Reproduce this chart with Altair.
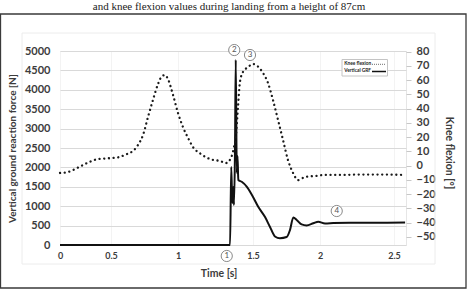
import altair as alt
import pandas as pd

# Knee flexion angle (degrees) over time (s)
knee_t = [0, 0.078, 0.176, 0.275, 0.373, 0.471, 0.552, 0.619, 0.672, 0.701,
          0.739, 0.776, 0.813, 0.851, 0.881, 0.903, 0.925, 0.963, 1.0, 1.033,
          1.067, 1.1, 1.153, 1.213, 1.28, 1.32, 1.353, 1.373, 1.387, 1.4,
          1.413, 1.433, 1.467, 1.5, 1.537, 1.575, 1.612, 1.649, 1.687, 1.724,
          1.761, 1.799, 1.836, 1.888, 1.963, 2.034, 2.135, 2.27, 2.405, 2.574]
knee_deg = [-5.2, -4.5, -1.4, 2.1, 4.6, 5.1, 5.8, 8.1, 10.9, 14.4,
            21.5, 34.1, 46.1, 57.3, 62.9, 63.6, 60.8, 49.6, 36.9, 27.1,
            19.4, 13.0, 8.1, 4.6, 3.2, 1.8, 5.3, 13.0, 21.5, 41.1,
            58.7, 65.7, 69.2, 71.4, 69.6, 65.0, 58.0, 46.1, 32.0, 18.0,
            3.9, -5.2, -10.2, -8.0, -7.3, -6.6, -6.6, -6.3, -6.3, -6.6]

# Vertical ground reaction force (N) over time (s)
grf_t = [0, 1.347, 1.355, 1.362, 1.369, 1.373, 1.38, 1.385, 1.392, 1.397,
         1.402, 1.425, 1.458, 1.493, 1.539, 1.59, 1.627, 1.664, 1.701, 1.751,
         1.776, 1.801, 1.826, 1.863, 1.9, 1.95, 1.987, 2.034, 2.09, 2.203,
         2.405, 2.574]
grf_n = [0, 0, 2010, 1080, 1495, 1030, 2450, 4770, 1855, 2295,
         1675, 1630, 1505, 1290, 985, 720, 465, 220, 175, 205,
         385, 710, 645, 530, 505, 560, 600, 555, 565, 575,
         575, 580]

# Numbered event markers (time, force-axis position)
mark_t = [1.325, 1.375, 1.48, 2.113]
mark_v = [-283, 5025, 4897, 876]
mark_lbl = ["1", "2", "3", "4"]

x_ticks = [0, 0.5, 1, 1.5, 2, 2.5]
grf_ticks = list(range(0, 5001, 500))
knee_ticks = list(range(-50, 81, 10))

caption = "and knee flexion values during landing from a height of 87cm"
legend_names = ["Knee flexion", "Vertical GRF"]

FONT = "Lato"
INK = "#3c3c3c"

knee_df = pd.DataFrame({"t": knee_t, "knee": knee_deg})
grf_df = pd.DataFrame({"t": grf_t, "grf": grf_n})
mark_df = pd.DataFrame({"t": mark_t, "v": mark_v, "lbl": mark_lbl})
one = pd.DataFrame({"k": [0]})

x_scale = alt.Scale(domain=[0, 0.5, 1, 1.5, 2, 2.5, 2.58],
                    range=[0, 51, 118, 193, 260, 334, 346], nice=False)
x_axis = alt.Axis(values=x_ticks, format="~g", title="Time [s]",
                  grid=True, gridColor="#f3f3f3", ticks=False, domain=False,
                  labelFlush=False, labelFont=FONT, labelFontWeight="bold",
                  labelFontSize=9, labelColor=INK, labelPadding=6,
                  titleFont=FONT, titleFontWeight="bold", titleFontSize=10.5,
                  titleColor=INK, titleX=158.5, titleY=28,
                  titleBaseline="middle", titleAlign="center")
x_enc = alt.X("t:Q", scale=x_scale, axis=x_axis)

grf_scale = alt.Scale(domain=[0, 5000], nice=False, zero=False)

grf_line = alt.Chart(grf_df).mark_line(
    color="#111111", strokeWidth=2, interpolate="monotone"
).encode(
    x=x_enc,
    y=alt.Y("grf:Q", scale=grf_scale,
            axis=alt.Axis(values=grf_ticks, format="d", orient="left",
                          title="Vertical ground reaction force [N]",
                          grid=True, gridColor="#d9d9d9", ticks=False,
                          domain=False, labelFont=FONT, labelFontWeight="bold",
                          labelFontSize=11, labelColor=INK, labelPadding=10,
                          titleFont=FONT, titleFontWeight="bold",
                          titleFontSize=10, titleColor=INK, titleAngle=270,
                          titleX=-48, titleY=97, titleBaseline="middle",
                          titleAlign="center")),
)

knee_line = alt.Chart(knee_df).mark_line(
    color="#1a1a1a", strokeWidth=2.3, strokeDash=[0.1, 4.6],
    strokeCap="round", interpolate="monotone"
).encode(
    x=x_enc,
    y=alt.Y("knee:Q", scale=alt.Scale(domain=[-55.8, 80.5], nice=False, zero=False),
            axis=alt.Axis(values=knee_ticks, format="d", orient="right",
                          title="Knee flexion [°]", grid=False, ticks=True,
                          tickSize=5, tickColor="#c8c8c8", domain=False,
                          labelFont=FONT, labelFontWeight="bold",
                          labelFontSize=11, labelColor=INK, labelPadding=5,
                          titleFont=FONT, titleFontWeight="bold",
                          titleFontSize=10.5, titleColor=INK, titleAngle=90,
                          titleX=42, titleY=101.5, titleBaseline="middle",
                          titleAlign="center")),
)

mark_y = alt.Y("v:Q", scale=grf_scale, axis=None)
event_circles = alt.Chart(mark_df).mark_point(
    shape="circle", size=125, filled=True, fill="white", stroke="#8a8a8a",
    strokeWidth=1, opacity=1
).encode(x=x_enc, y=mark_y)
event_text = alt.Chart(mark_df).mark_text(
    font=FONT, fontSize=8, color="#555555", baseline="middle", align="center"
).encode(x=x_enc, y=mark_y, text="lbl:N")

# Frames around the figure
outer_frame = alt.Chart(one).mark_rect(
    fill="transparent", stroke="#3a3a3a", strokeWidth=1.3
).encode(x=alt.value(-59.5), x2=alt.value(406), y=alt.value(-37), y2=alt.value(237))
inner_frame = alt.Chart(one).mark_rect(
    fill="transparent", stroke="#ececec", strokeWidth=1
).encode(x=alt.value(-38), x2=alt.value(375), y=alt.value(-18), y2=alt.value(213))

caption_text = alt.Chart(one).mark_text(
    text=caption, font="Liberation Serif", fontSize=11, color="#222222",
    align="center", baseline="middle"
).encode(x=alt.value(169), y=alt.value(-44.3))

# Legend: labels on the left, line samples on the right
legend_box = alt.Chart(one).mark_rect(
    fill="white", stroke="#c4c4c4", strokeWidth=1
).encode(x=alt.value(282), x2=alt.value(327.5), y=alt.value(8.5), y2=alt.value(25))
legend_lbl1 = alt.Chart(one).mark_text(
    text=legend_names[0], font=FONT, fontSize=4.8, fontWeight="bold",
    color="#222222", align="left", baseline="middle"
).encode(x=alt.value(284.3), y=alt.value(13.3))
legend_lbl2 = alt.Chart(one).mark_text(
    text=legend_names[1], font=FONT, fontSize=4.8, fontWeight="bold",
    color="#222222", align="left", baseline="middle"
).encode(x=alt.value(284.3), y=alt.value(20.3))
legend_dot = alt.Chart(one).mark_rule(
    color="#333333", strokeWidth=0.9, strokeDash=[0.8, 1.2]
).encode(x=alt.value(312), x2=alt.value(326), y=alt.value(13.3))
legend_solid = alt.Chart(one).mark_rule(
    color="#111111", strokeWidth=1.5
).encode(x=alt.value(312), x2=alt.value(326), y=alt.value(20.5))

chart = alt.layer(
    outer_frame, inner_frame, caption_text,
    grf_line, knee_line, event_circles, event_text,
    legend_box, legend_lbl1, legend_lbl2, legend_dot, legend_solid,
).resolve_scale(
    y="independent"
).properties(
    width=346, height=194,
    padding={"left": 60, "top": 51, "right": 62, "bottom": 45},
    autosize=alt.AutoSizeParams(type="none"),
).configure(
    background="white"
).configure_view(
    stroke="#e6e6e6"
)

chart.save("out.html", embed_options={"renderer": "svg", "actions": False})
